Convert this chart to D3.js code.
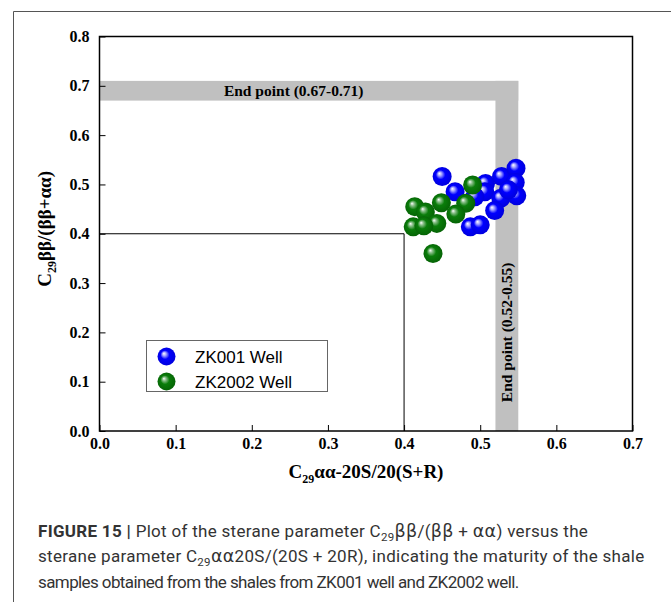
<!DOCTYPE html>
<html>
<head>
<meta charset="utf-8">
<script src="https://cdn.jsdelivr.net/npm/d3@7"></script>
<style>
  html, body { margin: 0; padding: 0; background: #fff; }
  svg { display: block; }
</style>
</head>
<body>
<svg id="fig" width="671" height="602"></svg>
<script>
// Sample values: C29 aa-20S/(20S+20R) (x) and C29 bb/(bb+aa) (y)
const zk001X = [0.450, 0.467, 0.507, 0.506, 0.528, 0.547, 0.546, 0.527, 0.548, 0.519, 0.487, 0.500, 0.493, 0.537];
const zk001Y = [0.516, 0.485, 0.502, 0.485, 0.516, 0.533, 0.504, 0.472, 0.477, 0.447, 0.414, 0.418, 0.475, 0.489];
const zk2002X = [0.490, 0.414, 0.449, 0.481, 0.468, 0.428, 0.412, 0.443, 0.426, 0.438];
const zk2002Y = [0.499, 0.455, 0.463, 0.462, 0.440, 0.444, 0.414, 0.421, 0.416, 0.360];

const seriesNames = ["ZK001 Well", "ZK2002 Well"];
const xTicks = [0, 0.1, 0.2, 0.3, 0.4, 0.5, 0.6, 0.7];
const yTicks = [0, 0.1, 0.2, 0.3, 0.4, 0.5, 0.6, 0.7, 0.8];

// Maturity end-point ranges
const endPointY = [0.67, 0.71];
const endPointX = [0.52, 0.55];
const guideValue = 0.4;

const svg = d3.select("#fig");
const x = d3.scaleLinear().domain([0, 0.7]).range([99.5, 632.5]);
const y = d3.scaleLinear().domain([0, 0.8]).range([431, 36.5]);

const serif = "'Liberation Serif', 'Times New Roman', serif";
const sans = "'Liberation Sans', Arial, sans-serif";

// Outer figure frame (top and left rules)
svg.append("path")
  .attr("d", "M13.5,602 V11.5 H671")
  .attr("fill", "none").attr("stroke", "#555").attr("stroke-width", 1);

// Sphere gradients
const defs = svg.append("defs");
function sphere(id, light, mid, dark) {
  const g = defs.append("radialGradient").attr("id", id)
    .attr("cx", "50%").attr("cy", "50%").attr("r", "55%")
    .attr("fx", "35%").attr("fy", "33%");
  g.append("stop").attr("offset", "0%").attr("stop-color", "#ffffff");
  g.append("stop").attr("offset", "18%").attr("stop-color", light);
  g.append("stop").attr("offset", "45%").attr("stop-color", mid);
  g.append("stop").attr("offset", "100%").attr("stop-color", dark);
}
sphere("ballBlue", "#a8a8ff", "#0000ff", "#0000d8");
sphere("ballGreen", "#8cc08c", "#0a7d0a", "#056005");

// Gray end-point bands
const band = svg.append("g").attr("fill", "#c0c0c0");
band.append("rect")
  .attr("x", x(0)).attr("y", y(endPointY[1]))
  .attr("width", x(endPointX[1]) - x(0))
  .attr("height", y(endPointY[0]) - y(endPointY[1]));
band.append("rect")
  .attr("x", x(endPointX[0])).attr("y", y(endPointY[1]))
  .attr("width", x(endPointX[1]) - x(endPointX[0]))
  .attr("height", y(0) - y(endPointY[1]));

svg.append("text")
  .attr("x", x(0.255)).attr("y", y((endPointY[0] + endPointY[1]) / 2) + 5.5)
  .attr("text-anchor", "middle")
  .attr("font-family", serif).attr("font-weight", "bold").attr("font-size", 15.5)
  .text("End point (0.67-0.71)");

svg.append("text")
  .attr("transform", `translate(${x((endPointX[0] + endPointX[1]) / 2) + 5.5},${y(0.2)}) rotate(-90)`)
  .attr("text-anchor", "middle")
  .attr("font-family", serif).attr("font-weight", "bold").attr("font-size", 15.5)
  .text("End point (0.52-0.55)");

// Thin guide box at 0.4 / 0.4
svg.append("path")
  .attr("d", `M${x(0)},${y(guideValue)} H${x(guideValue)} V${y(0)}`)
  .attr("fill", "none").attr("stroke", "#000").attr("stroke-width", 1);

// Axes with inward ticks
const xAxis = svg.append("g").attr("transform", `translate(0,${y(0)})`)
  .call(d3.axisBottom(x).tickValues(xTicks).tickFormat(d3.format(".1f"))
    .tickSizeInner(-6).tickSizeOuter(0).tickPadding(7));
const yAxis = svg.append("g").attr("transform", `translate(${x(0)},0)`)
  .call(d3.axisLeft(y).tickValues(yTicks).tickFormat(d3.format(".1f"))
    .tickSizeInner(-6).tickSizeOuter(0).tickPadding(10));
[xAxis, yAxis].forEach(a => {
  a.selectAll("text").attr("font-family", serif).attr("font-weight", "bold")
    .attr("font-size", 16).attr("fill", "#000");
  a.selectAll("line").attr("stroke", "#000");
  a.select(".domain").remove();
});

// Plot frame
svg.append("rect")
  .attr("x", x(0)).attr("y", y(0.8))
  .attr("width", x(0.7) - x(0)).attr("height", y(0) - y(0.8))
  .attr("fill", "none").attr("stroke", "#000").attr("stroke-width", 1.5);

// Axis titles
const xt = svg.append("text")
  .attr("x", x(0.35)).attr("y", 478)
  .attr("text-anchor", "middle")
  .attr("font-family", serif).attr("font-weight", "bold").attr("font-size", 19);
xt.append("tspan").text("C");
xt.append("tspan").attr("font-size", 12).attr("dy", 5).text("29");
xt.append("tspan").attr("dy", -5).text("αα-20S/20(S+R)");

const yt = svg.append("text")
  .attr("transform", `translate(51,${y(0.41)}) rotate(-90)`)
  .attr("text-anchor", "middle")
  .attr("font-family", serif).attr("font-weight", "bold").attr("font-size", 19);
yt.append("tspan").text("C");
yt.append("tspan").attr("font-size", 12).attr("dy", 5).text("29");
yt.append("tspan").attr("dy", -5).text("ββ/(ββ+αα)");

// Sample points (ZK001 first, ZK2002 on top)
const r = 9.5;
svg.append("g").selectAll("circle")
  .data(d3.zip(zk001X, zk001Y)).join("circle")
  .attr("cx", d => x(d[0])).attr("cy", d => y(d[1])).attr("r", r)
  .attr("fill", "url(#ballBlue)");
svg.append("g").selectAll("circle")
  .data(d3.zip(zk2002X, zk2002Y)).join("circle")
  .attr("cx", d => x(d[0])).attr("cy", d => y(d[1])).attr("r", r)
  .attr("fill", "url(#ballGreen)");

// Legend
const leg = svg.append("g");
leg.append("rect")
  .attr("x", 146.5).attr("y", 340.5).attr("width", 181).attr("height", 51)
  .attr("fill", "#fff").attr("stroke", "#666").attr("stroke-width", 1);
const legFills = ["url(#ballBlue)", "url(#ballGreen)"];
seriesNames.forEach((name, i) => {
  const cy = 356.5 + i * 25;
  leg.append("circle").attr("cx", 166.5).attr("cy", cy).attr("r", 9).attr("fill", legFills[i]);
  leg.append("text").attr("x", 195).attr("y", cy + 6)
    .attr("font-family", sans).attr("font-size", 17).attr("fill", "#000")
    .text(name);
});

// Caption; Greek runs are set in a wider face
const capFont = "Roboto, 'Liberation Sans', Arial, sans-serif";
const greekFont = "'DejaVu Sans', sans-serif";
const greekSize = 17.5;
const cap = svg.append("g").attr("font-family", capFont).attr("font-size", 17).attr("fill", "#333");
const l1 = cap.append("text").attr("x", 38).attr("y", 537).attr("letter-spacing", 0.3);
l1.append("tspan").attr("font-weight", "bold").text("FIGURE 15 | ");
l1.append("tspan").text("Plot of the sterane parameter C");
l1.append("tspan").attr("font-size", 11.5).attr("dy", 3.5).text("29");
l1.append("tspan").attr("dy", -3.5).attr("font-family", greekFont).attr("font-size", greekSize).text("ββ");
l1.append("tspan").text("/(");
l1.append("tspan").attr("font-family", greekFont).attr("font-size", greekSize).text("ββ");
l1.append("tspan").text(" + ");
l1.append("tspan").attr("font-family", greekFont).attr("font-size", greekSize).text("αα");
l1.append("tspan").text(") versus the");
const l2 = cap.append("text").attr("x", 38).attr("y", 562).attr("letter-spacing", 0.3);
l2.append("tspan").text("sterane parameter C");
l2.append("tspan").attr("font-size", 11.5).attr("dy", 3.5).text("29");
l2.append("tspan").attr("dy", -3.5).attr("font-family", greekFont).attr("font-size", greekSize).text("αα");
l2.append("tspan").text("20S/(20S + 20R), indicating the maturity of the shale");
cap.append("text").attr("x", 38).attr("y", 588).attr("letter-spacing", -0.6)
  .text("samples obtained from the shales from ZK001 well and ZK2002 well.");
</script>
</body>
</html>
